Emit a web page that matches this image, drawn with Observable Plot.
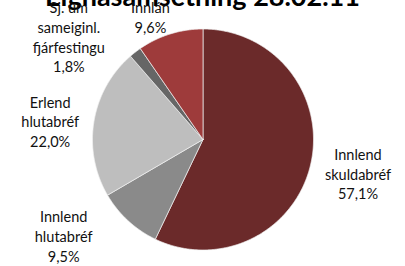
<!DOCTYPE html>
<html>
<head>
<meta charset="utf-8">
<script src="https://cdn.jsdelivr.net/npm/d3@7"></script>
<script src="https://cdn.jsdelivr.net/npm/@observablehq/plot@0.6"></script>
<style>
  html, body { margin: 0; padding: 0; background: #fff; width: 405px; height: 266px; overflow: hidden; }
  #wrap { position: relative; width: 405px; height: 266px; overflow: hidden; }
  #title { position: absolute; left: 0; width: 405px; top: -20.5px; text-align: center; white-space: nowrap;
           font-family: Lato, "Open Sans", sans-serif; font-weight: bold; font-size: 27px; line-height: 32px; color: #000; }
  #chart { position: absolute; left: 0; top: 0; }
</style>
</head>
<body>
<div id="wrap">
  <div id="title">Eignasamsetning 28.02.11</div>
  <div id="chart"></div>
</div>
<script>
// Data (clockwise from 12 o'clock)
const categories = ["Innlend\nskuldabréf", "Innlend\nhlutabréf", "Erlend\nhlutabréf", "Sj. um\nsameiginl.\nfjárfestingu", "Innlán"];
const shares = [57.1, 9.5, 22.0, 1.8, 9.6];
const colors = ["#6B2A2A", "#8A8A8A", "#BEBEBE", "#666666", "#9E3B3B"];
// label placement nudges (pixels) relative to the mid-angle anchor
const labelDx = [2, -33, 2, -38, -6];
const labelDy = [-1, -19, 7, 21, 27];

const pieAngles = d3.pie().sort(null).value(d => d)(shares);

// build slice outlines (unit circle, angle clockwise from top)
const slicePts = [];
pieAngles.forEach((p, i) => {
  const name = categories[i];
  slicePts.push({name, x: 0, y: 0});
  const n = Math.max(2, Math.ceil((p.endAngle - p.startAngle) / (Math.PI / 360)));
  for (let k = 0; k <= n; k++) {
    const a = p.startAngle + (p.endAngle - p.startAngle) * k / n;
    slicePts.push({name, x: Math.sin(a), y: Math.cos(a)});
  }
  slicePts.push({name, x: 0, y: 0});
});

const rLabel = 1.42;
const labels = pieAngles.map((p, i) => {
  const a = (p.startAngle + p.endAngle) / 2;
  return {
    name: categories[i],
    text: categories[i] + "\n" + shares[i].toFixed(1).replace(".", ",") + "%",
    x: rLabel * Math.sin(a), y: rLabel * Math.cos(a),
    dx: labelDx[i], dy: labelDy[i]
  };
});

const chart = Plot.plot({
  width: 405,
  height: 266,
  marginLeft: 92, marginRight: 92, marginTop: 28.5, marginBottom: 16.5,
  x: {domain: [-1, 1], axis: null},
  y: {domain: [-1, 1], axis: null},
  color: {domain: categories, range: colors},
  style: {background: "transparent", overflow: "visible"},
  marks: [
    Plot.line(slicePts, {x: "x", y: "y", z: "name", fill: "name", stroke: "#f2f2f2", strokeWidth: 0.7, strokeLinejoin: "round"}),
    ...labels.map(l => Plot.text([l], {
      x: "x", y: "y", text: "text", dx: l.dx, dy: l.dy,
      fontSize: 14.5, lineHeight: 1.36, fill: "#111",
      fontFamily: "Lato, 'Open Sans', sans-serif", textAnchor: "middle"
    }))
  ]
});
document.getElementById("chart").appendChild(chart);
</script>
</body>
</html>
